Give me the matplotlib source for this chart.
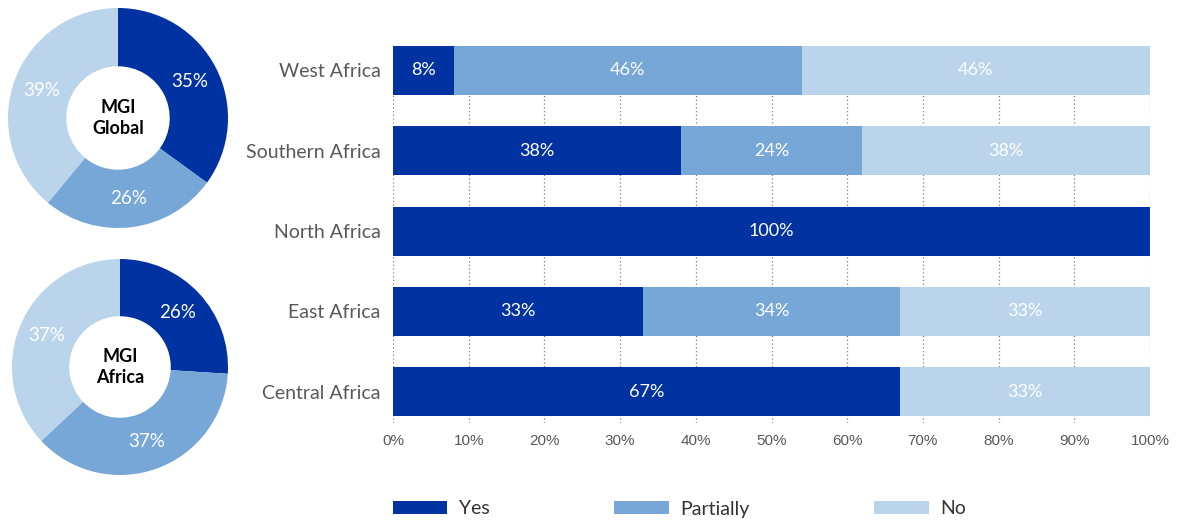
import matplotlib
matplotlib.use("Agg")
import matplotlib.pyplot as plt
from matplotlib.patches import Patch
import numpy as np

# ---- data ----
regions = ["West Africa", "Southern Africa", "North Africa", "East Africa", "Central Africa"]
yes_vals = [8, 38, 100, 33, 67]
partial_vals = [46, 24, 0, 34, 0]
no_vals = [46, 38, 0, 33, 33]
series_names = ["Yes", "Partially", "No"]

global_vals = [35, 26, 39]
africa_vals = [26, 37, 37]
donut_titles = ["MGI\nGlobal", "MGI\nAfrica"]

xticks = list(range(0, 101, 10))
xtick_labels = [f"{t}%" for t in xticks]

colors = ["#0033A1", "#76A7D7", "#BAD4EB"]
font_main = ["Lato", "DejaVu Sans"]
tick_gray = "#595959"

fig = plt.figure(figsize=(11.77, 5.22), dpi=100)

# ---- bar chart ----
ax = fig.add_axes([393/1177, 1-423/522, (1150-393)/1177, (423-46)/522])
ypos = np.arange(len(regions))[::-1]
h = 0.61
left = np.zeros(len(regions))
for vals, col in zip([yes_vals, partial_vals, no_vals], colors):
    vals = np.array(vals, dtype=float)
    bars = ax.barh(ypos, vals, left=left, height=h, color=col, zorder=3)
    for b, v in zip(bars, vals):
        if v > 0:
            ax.text(b.get_x() + b.get_width()/2, b.get_y() + b.get_height()/2,
                    f"{int(v)}%", ha="center", va="center", color="white",
                    fontsize=13, family=font_main, zorder=4)
    left += vals

ax.set_xlim(0, 100)
ax.set_ylim(-0.39, ypos.max() + h/2)
ax.set_xticks(xticks)
ax.set_xticklabels(xtick_labels, color=tick_gray, fontsize=11, family=["Liberation Sans"])
ax.set_yticks(ypos)
ax.set_yticklabels(regions, color=tick_gray, fontsize=14, family=font_main)
ax.tick_params(axis="both", length=0)
ax.tick_params(axis="x", pad=8)
ax.tick_params(axis="y", pad=9)
for s in ax.spines.values():
    s.set_visible(False)
ax.grid(axis="x", linestyle=(0, (1, 2)), color="#808080", linewidth=0.9, zorder=0)
ax.set_axisbelow(True)

# ---- donuts ----
def donut(rect, vals, title):
    a = fig.add_axes(rect)
    wedges, _, autot = a.pie(vals, colors=colors, startangle=90, counterclock=False,
                             wedgeprops=dict(width=0.53, edgecolor="none"),
                             autopct=lambda p: f"{p:.0f}%", pctdistance=0.735,
                             textprops=dict(color="white", fontsize=13.5, family=font_main))
    a.set_xlim(-1, 1)
    a.set_ylim(-1, 1)
    a.set_aspect("equal")
    a.text(0, 0, title, ha="center", va="center", fontsize=13, fontweight="bold",
           color="black", family=font_main, linespacing=1.25)
    return a

donut([8/1177, 1-228/522, 220/1177, 220/522], global_vals, donut_titles[0])
donut([12/1177, 1-475/522, 216/1177, 216/522], africa_vals, donut_titles[1])

# ---- legend ----
handles = [Patch(facecolor=c, edgecolor="none") for c in colors]
leg = fig.legend(handles, series_names, loc="center left",
                 bbox_to_anchor=(393/1177, 1-509/522), ncol=3, frameon=False,
                 prop=dict(family=font_main, size=14),
                 handlelength=2.8, handleheight=0.6, handletextpad=0.6,
                 columnspacing=6.4, borderpad=0, borderaxespad=0)
for t in leg.get_texts():
    t.set_color("#333333")

fig.savefig("out.png", dpi=100, facecolor="white")
